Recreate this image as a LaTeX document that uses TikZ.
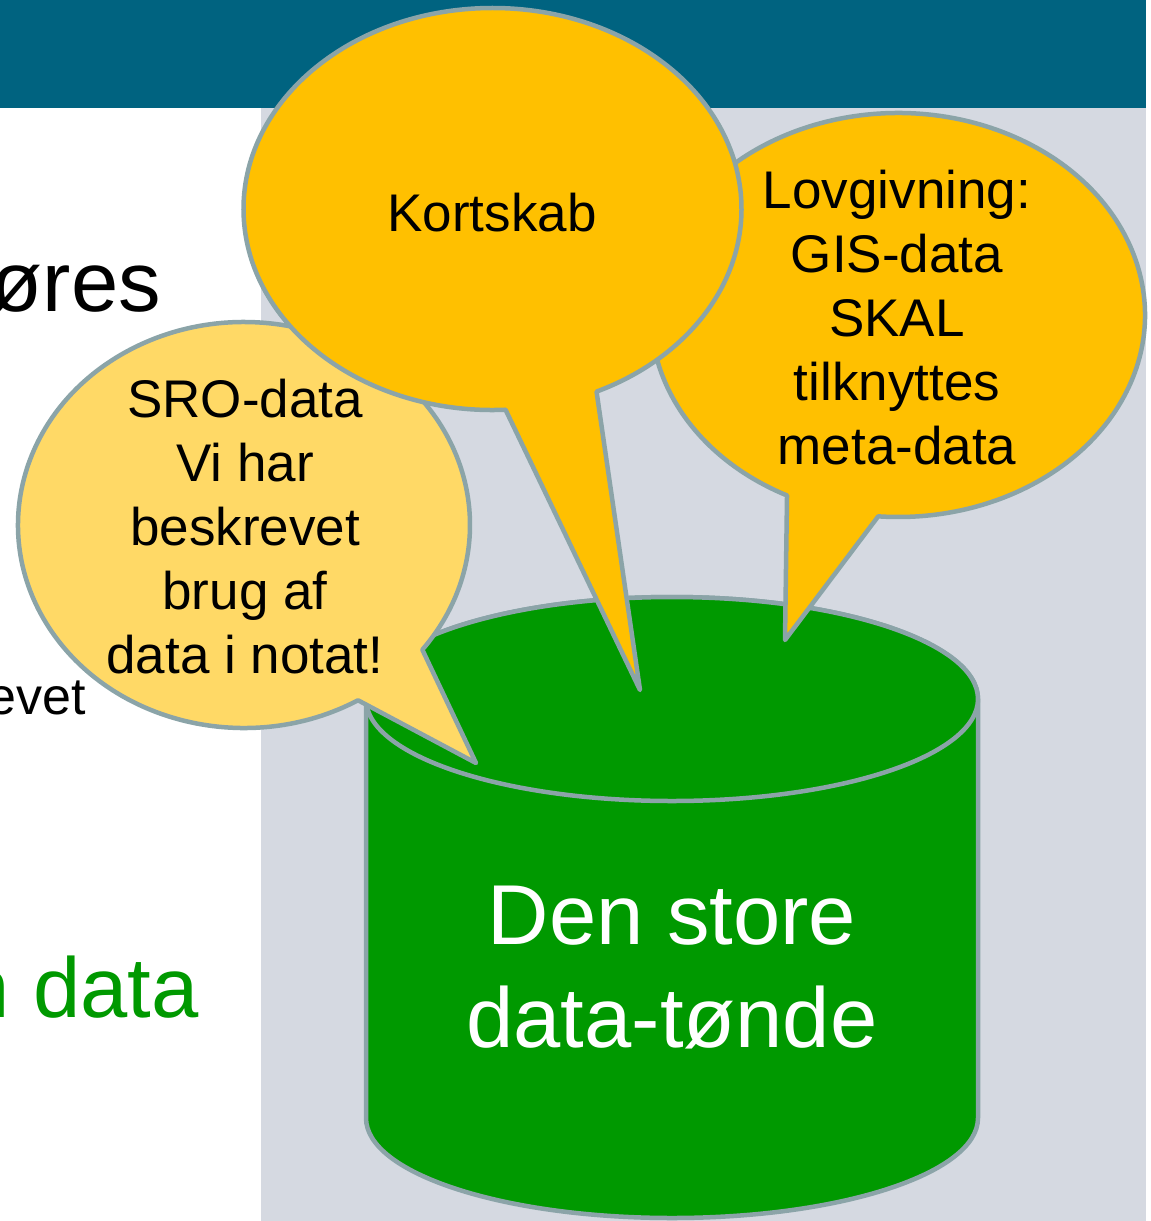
\documentclass[tikz,border=0pt]{standalone}
\usepackage{fontspec}
\setmainfont{Liberation Sans}
\usetikzlibrary{calc}
\definecolor{bandblue}{RGB}{0,99,128}
\definecolor{panelgray}{RGB}{213,217,225}
\definecolor{bubbleorange}{RGB}{255,192,0}
\definecolor{bubblepale}{RGB}{255,217,102}
\definecolor{barrelgreen}{RGB}{0,153,0}
\definecolor{rimgray}{RGB}{139,164,168}
\tikzset{
  outline/.style={draw=rimgray, line width=4.5pt, line join=round},
  bubbletext/.style={align=center, inner sep=0pt, text=black,
    font=\fontsize{53}{64}\selectfont},
  bigtext/.style={inner sep=0pt, font=\fontsize{85}{103}\selectfont},
  smalltext/.style={inner sep=0pt, font=\fontsize{52}{62}\selectfont}
}
\begin{document}
\begin{tikzpicture}[x=1pt,y=-1pt]
\useasboundingbox (0,0) rectangle (1151,1221);
\clip (0,0) rectangle (1151,1221);
% page background, title band and side panel
\fill[white] (0,0) rectangle (1151,1221);
\fill[bandblue] (0,0) rectangle (1146,108);
\fill[panelgray] (261,108) rectangle (1146,1221);

% text fragments on the slide, cut at the left edge
\node[bigtext, anchor=base east] (ores) at (161,311) {øres};
\node[smalltext, anchor=base east] (evet) at (86,714) {evet};
\node[bigtext, anchor=base east, text=barrelgreen] (ndata) at (199,1017) {n data};

% the data barrel
\path[outline, fill=barrelgreen]
  (366,699) -- (366,1118)
  arc[start angle=180, end angle=0, x radius=306, y radius=100]
  -- (978,699)
  arc[start angle=0, end angle=-180, x radius=306, y radius=102] -- cycle;
\path[outline, fill=barrelgreen] (672,699) ellipse[x radius=306, y radius=102];
\node[bigtext, align=center, text=white] (barrel) at (672,968) {Den store\\data-tønde};

% speech bubble: Lovgivning
\coordinate (lovc) at (898,315);
\coordinate (lovtip) at (785,640);
\path[outline, fill=bubbleorange]
  (lovtip) -- ($(lovc)+(116.7:247 and 202)$)
  arc[start angle=116.7, end angle=454.6, x radius=247, y radius=202] -- cycle;
\node[bubbletext] (lov) at (897,318) {Lovgivning:\\GIS-data\\SKAL\\tilknyttes\\meta-data};

% speech bubble: SRO-data
\coordinate (sroc) at (244,525);
\coordinate (srotip) at (476,763);
\path[outline, fill=bubblepale]
  (srotip) -- ($(sroc)+(59.7:226 and 203)$)
  arc[start angle=59.7, end angle=397.9, x radius=226, y radius=203] -- cycle;
\node[bubbletext] (sro) at (245,527) {SRO-data\\Vi har\\beskrevet\\brug af\\data i notat!};

% speech bubble: Kortskab
\coordinate (kortc) at (492.5,209);
\coordinate (korttip) at (640,690);
\path[outline, fill=bubbleorange]
  (korttip) -- ($(kortc)+(87:249 and 201)$)
  arc[start angle=87, end angle=425.3, x radius=249, y radius=201] -- cycle;
\node[bubbletext] (kort) at (492,213) {Kortskab};
\end{tikzpicture}
\end{document}
